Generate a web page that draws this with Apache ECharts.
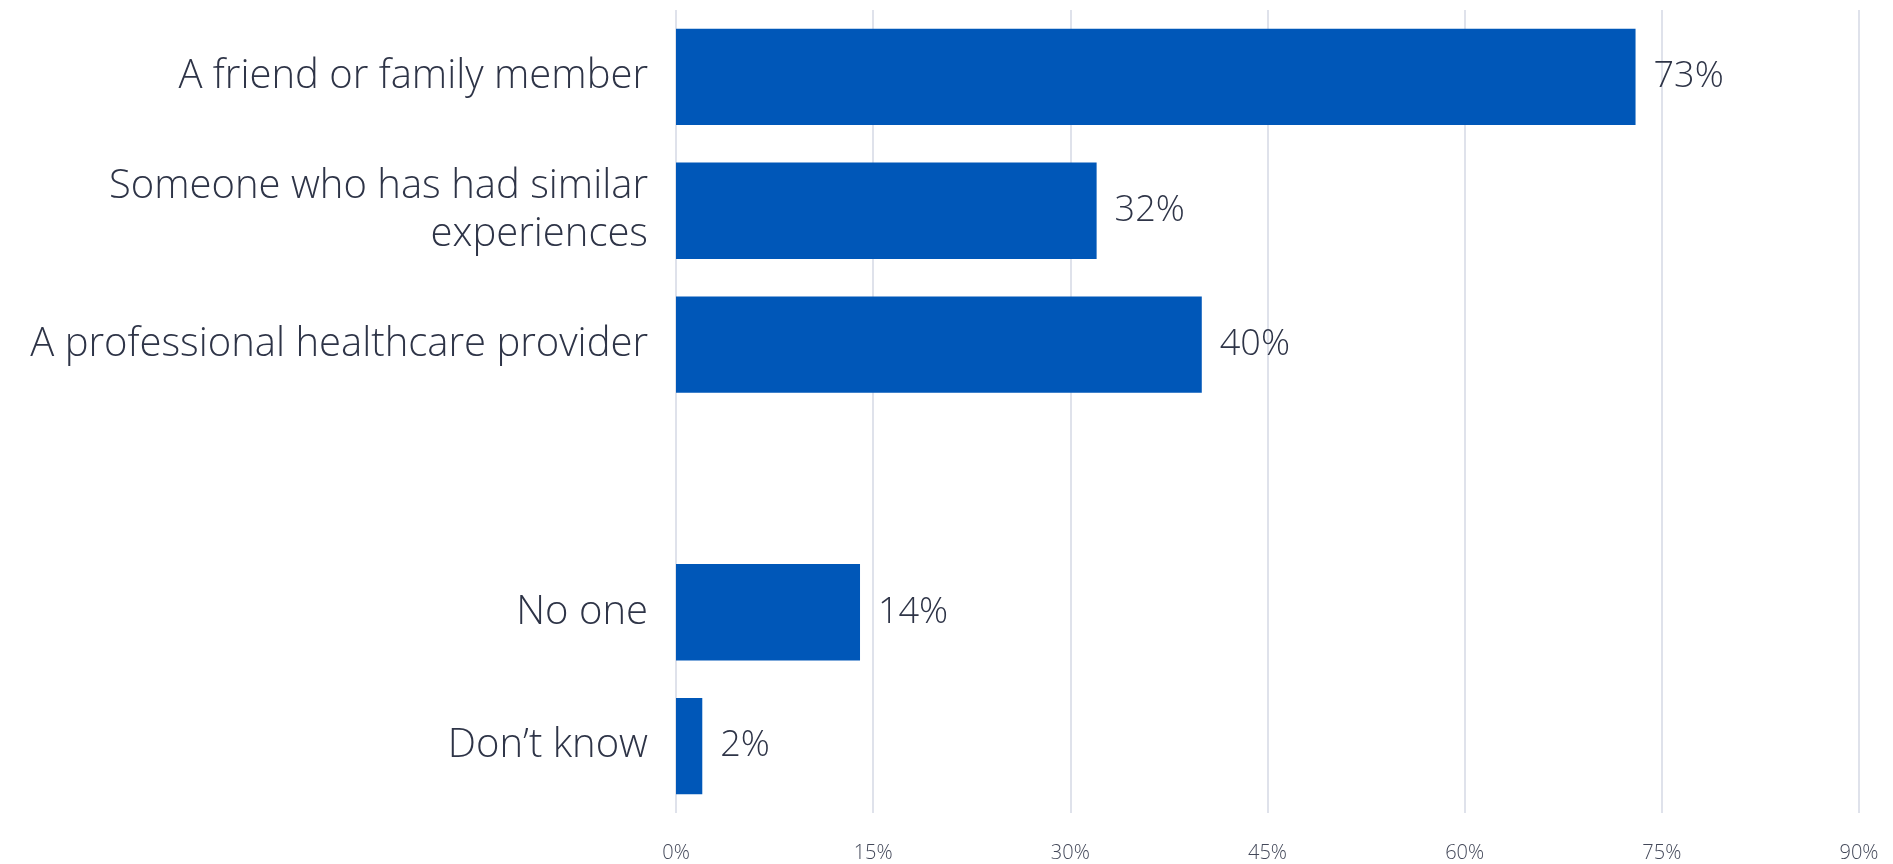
<!DOCTYPE html>
<html>
<head>
<meta charset="utf-8">
<script src="https://cdn.jsdelivr.net/npm/echarts@6/dist/echarts.min.js"></script>
<style>
  html, body { margin: 0; padding: 0; background: #fff; }
  #chart { width: 1893px; height: 864px; }
</style>
</head>
<body>
<div id="chart"></div>
<script>
// answers, top to bottom (empty slot is the gap in the original)
var categories = [
  "A friend or family member",
  "Someone who has had similar\nexperiences",
  "A professional healthcare provider",
  "",
  "No one",
  "Don\u2019t know"
];
var shares = [73, 32, 40, null, 14, 2];
var tickLabels = ["0%", "15%", "30%", "45%", "60%", "75%", "90%"];

var chart = echarts.init(document.getElementById("chart"));
var option = {
  animation: false,
  grid: {
    left: 676,
    right: 34,
    top: 10,
    bottom: 51,
    containLabel: false
  },
  xAxis: {
    type: "value",
    min: 0,
    max: 90,
    interval: 15,
    axisLine: { show: false },
    axisTick: { show: false },
    splitLine: {
      show: true,
      lineStyle: { color: "#dfe2eb", width: 2 }
    },
    axisLabel: {
      margin: 30,
      fontFamily: "Open Sans",
      fontWeight: 300,
      fontSize: 20,
      color: "#434859",
      formatter: function (v) {
        return tickLabels[Math.round(v / 15)];
      }
    }
  },
  yAxis: {
    type: "category",
    inverse: true,
    data: categories,
    axisLine: { show: false },
    axisTick: { show: false },
    splitLine: { show: false },
    axisLabel: {
      margin: 28,
      fontFamily: "Open Sans",
      fontWeight: 300,
      fontSize: 40,
      lineHeight: 48,
      color: "#2e3447",
      align: "right",
      padding: [6, 0, 0, 0]
    }
  },
  series: [
    {
      type: "bar",
      data: shares,
      barCategoryGap: "28%",
      itemStyle: { color: "#0057b8" },
      label: {
        show: true,
        position: "right",
        distance: 18,
        fontFamily: "Open Sans",
        fontWeight: 300,
        fontSize: 36,
        color: "#2e3447",
        padding: [4, 0, 0, 0],
        formatter: function (p) {
          return p.value == null ? "" : p.value + "%";
        }
      }
    }
  ]
};
chart.setOption(option);
</script>
</body>
</html>
